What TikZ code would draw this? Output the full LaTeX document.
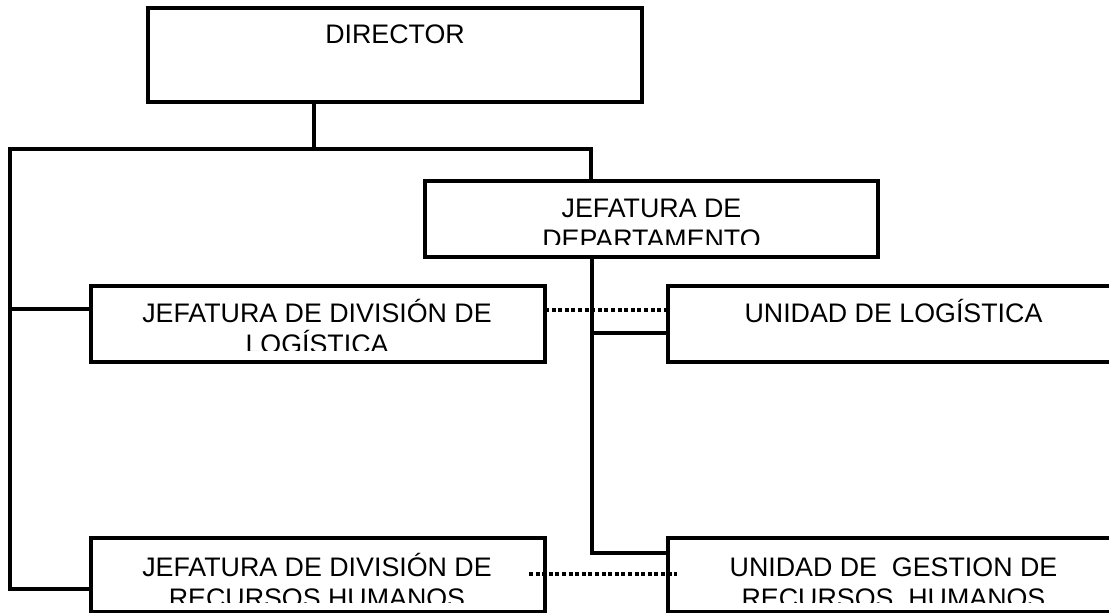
\documentclass[tikz,border=0pt]{standalone}
\usepackage{fontspec}
\setmainfont{Liberation Sans}
\begin{document}
\begin{tikzpicture}[x=1pt,y=-1pt,
  box/.style={draw=black,line width=3.6pt,inner sep=0pt,outer sep=0pt,anchor=north west,fill=white},
  conn/.style={draw=black,line width=3.1pt,line cap=rect},
  dotline/.style={draw=black,line width=3.6pt,dash pattern=on 4pt off 2.6pt},
  txt/.style={inner sep=0pt,outer sep=0pt,anchor=base,font=\fontsize{26.8}{31.5}\selectfont}]
\useasboundingbox (0,0) rectangle (1109,613);
\clip (0,0) rectangle (1109,613);
% coordinates for bends
\coordinate (stem) at (314,149);
\coordinate (busL) at (10,149);
\coordinate (busR) at (591,149);
\coordinate (lm) at (10,309);
\coordinate (lb) at (10,589);
\coordinate (dm) at (592,333);
\coordinate (db) at (592,553);
\coordinate (dotA) at (0,310);
\coordinate (dotB1) at (529,574);
\coordinate (dotB2) at (677,574);
% connectors
\draw[conn] (busL) -- (busR);
\draw[conn] (busL) -- (lb);
% boxes
\node[box,minimum width=494pt,minimum height=94pt] (d) at (148,8) {};
\node[box,minimum width=453pt,minimum height=76pt] (jd) at (425,181) {};
\node[box,minimum width=454pt,minimum height=76pt] (jdl) at (91,286) {};
\node[box,minimum width=453pt,minimum height=76pt] (ul) at (668,286) {};
\node[box,minimum width=454pt,minimum height=74pt] (jdrh) at (91,538) {};
\node[box,minimum width=453pt,minimum height=74pt] (ugrh) at (668,538) {};
% connectors to boxes
\draw[conn] (stem |- d.south) -- (stem);
\draw[conn] (busR) -- (busR |- jd.north);
\draw[conn] (lm) -- (lm -| jdl.west);
\draw[conn] (lb) -- (lb -| jdrh.west);
\draw[conn] (jd.south -| db) -- (db) -- (db -| ugrh.west);
\draw[conn] (dm) -- (dm -| ul.west);
\draw[dotline] (jdl.east |- dotA) -- (ul.west |- dotA);
\draw[dotline] (dotB1) -- (dotB2);
% texts
\node[txt] (td) at (395,43) {DIRECTOR};
\begin{scope}
\clip (jd.north west) rectangle ([yshift=13pt]jd.south east);
\node[txt] (tjd1) at (651.5,217) {JEFATURA DE};
\node[txt] (tjd2) at (651.5,248.5) {DEPARTAMENTO};
\end{scope}
\begin{scope}
\clip (jdl.north west) rectangle ([yshift=12pt]jdl.south east);
\node[txt] (tjdl1) at (317,322) {JEFATURA DE DIVISIÓN DE};
\node[txt] (tjdl2) at (317,353.5) {LOGÍSTICA};
\end{scope}
\node[txt] (tul) at (893.5,322) {UNIDAD DE LOGÍSTICA};
\begin{scope}
\clip (jdrh.north west) rectangle ([yshift=10pt]jdrh.south east);
\node[txt] (tjdrh1) at (317,576) {JEFATURA DE DIVISIÓN DE};
\node[txt] (tjdrh2) at (317,607.5) {RECURSOS HUMANOS};
\end{scope}
\begin{scope}
\clip (ugrh.north west) rectangle ([yshift=10pt]ugrh.south east);
\node[txt] (tug1) at (893.5,576) {UNIDAD DE\ \ GESTION DE};
\node[txt] (tug2) at (893.5,607.5) {RECURSOS\ \ HUMANOS};
\end{scope}
\end{tikzpicture}
\end{document}
